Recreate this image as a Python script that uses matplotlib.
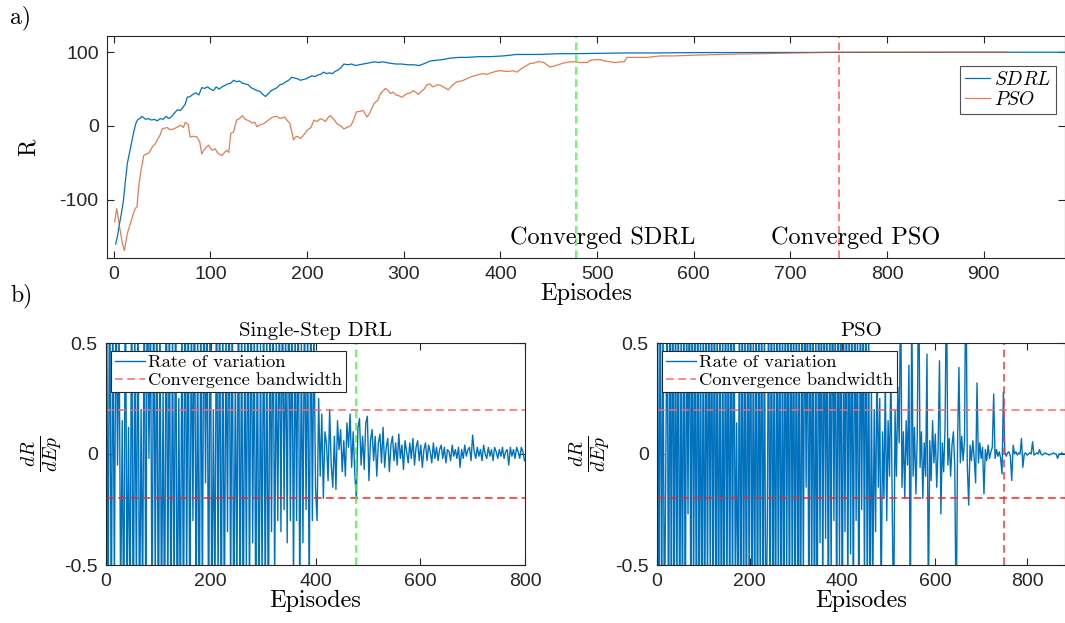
import numpy as np
import matplotlib
matplotlib.use("Agg")
import matplotlib.pyplot as plt

# a) reward per episode
sdrl_ep = [2, 4, 6, 8, 10, 12, 14, 16, 18, 21,
           23, 25, 27, 29, 31, 33, 36, 39, 42, 45,
           48, 51, 54, 57, 60, 63, 66, 69, 72, 74,
           76, 79, 82, 85, 88, 91, 94, 97, 100, 103,
           106, 109, 112, 115, 118, 121, 124, 127, 130, 133,
           136, 139, 142, 145, 148, 151, 154, 157, 160, 163,
           166, 169, 172, 175, 178, 181, 184, 187, 190, 193,
           196, 199, 202, 205, 208, 211, 214, 217, 220, 223,
           226, 229, 232, 235, 238, 242, 246, 250, 254, 258,
           262, 266, 270, 274, 278, 282, 286, 292, 298, 304,
           310, 316, 322, 327, 333, 340, 348, 357, 365, 378,
           389, 403, 417, 430, 441, 460, 475, 500, 530, 560,
           600, 650, 700, 750, 800, 850, 900, 950, 990]
sdrl_r = [-160, -148, -132, -118, -101, -75, -51, -38, -25, -6,
          4, 9, 10, 13, 11, 9, 10, 8, 9, 7,
          10, 9, 13, 10, 13, 18, 22, 21, 26, 30,
          39, 40, 43, 45, 42, 52, 51, 53, 50, 48,
          53, 50, 53, 55, 57, 58, 62, 60, 61, 58,
          57, 56, 52, 50, 48, 47, 43, 40, 44, 48,
          50, 52, 56, 57, 60, 62, 66, 65, 64, 62,
          63, 64, 66, 68, 67, 69, 70, 73, 71, 72,
          71, 74, 76, 79, 84, 83, 84, 82, 83, 84,
          85, 86, 87, 86, 87, 86, 85, 84, 84, 83,
          83, 82, 85, 88, 89, 90, 92, 93, 93, 94,
          94, 95, 97, 97, 97, 98, 98, 98.5, 99, 99,
          99.5, 99.6, 99.8, 99.9, 100, 100, 100, 100, 100]

pso_ep = [1, 3, 5, 7, 9, 11, 14, 17, 20, 22,
          24, 26, 28, 31, 34, 36, 38, 40, 43, 45,
          48, 50, 53, 55, 58, 62, 65, 69, 72, 74,
          77, 79, 82, 86, 89, 91, 93, 95, 98, 100,
          102, 105, 107, 109, 112, 115, 117, 119, 121, 124,
          127, 130, 133, 136, 138, 141, 143, 146, 148, 152,
          155, 159, 164, 169, 172, 174, 177, 179, 182, 186,
          188, 190, 193, 196, 200, 204, 207, 210, 214, 217,
          219, 222, 224, 227, 231, 235, 238, 241, 245, 248,
          251, 255, 258, 262, 265, 269, 273, 276, 281, 284,
          286, 289, 292, 295, 298, 301, 304, 307, 310, 313,
          315, 318, 321, 324, 327, 330, 332, 335, 338, 342,
          346, 350, 355, 360, 365, 370, 373, 378, 382, 386,
          390, 395, 400, 405, 409, 413, 417, 422, 427, 431,
          434, 438, 441, 445, 451, 455, 460, 464, 468, 473,
          478, 482, 486, 490, 493, 498, 503, 508, 514, 519,
          524, 528, 531, 540, 552, 558, 566, 580, 600, 615,
          628, 645, 669, 685, 703, 725, 748, 800, 850, 925]
pso_r = [-130, -112, -128, -145, -160, -169, -146, -133, -120, -112,
         -110, -80, -62, -40, -38, -37, -33, -28, -24, -19,
         -12, -4, -3, -2, -5, -4, -2, 1, -2, 5,
         2, -15, -14, -15, -22, -38, -33, -30, -26, -30,
         -33, -31, -36, -38, -40, -35, -33, -36, -10, -8,
         8, 10, 14, 9, 8, 6, 4, 5, -1, 2,
         3, 7, 12, 13, 10, 11, 12, 8, 4, -19,
         -15, -14, -17, -13, -6, -2, 8, 6, 10, 8,
         6, 12, 14, 10, 3, 0, -4, -2, 0, 8,
         19, 20, 21, 12, 18, 30, 35, 44, 51, 48,
         44, 46, 42, 41, 39, 42, 44, 45, 48, 45,
         43, 47, 50, 56, 57, 53, 54, 56, 55, 52,
         49, 55, 60, 61, 64, 67, 68, 70, 71, 70,
         72, 74, 75, 74, 74, 75, 73, 78, 82, 85,
         85, 87, 87, 86, 80, 81, 83, 85, 86, 87,
         87, 86, 86, 86, 89, 90, 90, 88, 87, 86,
         87, 87, 93, 93, 93, 94, 95, 95, 96, 96.5,
         97, 97.5, 98, 98.5, 99, 99.5, 100, 100, 100, 100]

conv_sdrl = 478
conv_pso = 750

# b) rate of variation dR/dEp, one value every 3 episodes
drl_rate = [0.9, -0.8, 1.1, -0.9, 0.7, -0.6, 0.8, -0.05, 0.6, -0.7,
            0.15, -0.9, 1.0, -0.7, 0.12, -0.8, 0.9, -1.0, 0.6, -0.6,
            0.8, -0.9, 0.2, -0.7, 0.9, -0.8, 1.0, -0.02, 0.7, -0.9,
            0.9, -0.6, 0.8, -1.0, 0.7, -0.8, 0.3, -0.9, 1.0, -0.7,
            0.8, -0.9, 0.6, -0.7, 0.9, -1.0, 0.25, -0.8, 0.7, -0.9,
            1.0, -0.6, 0.8, -0.9, 0.7, -0.3, 0.9, -0.8, 0.6, -1.0,
            0.8, -0.7, 0.9, -0.13, 0.7, -0.9, 1.0, -0.8, 0.2, -0.7,
            0.9, -0.6, 0.8, -0.9, 0.7, -0.8, 0.6, -0.35, 0.9, -0.7,
            0.8, -0.9, 0.4, -0.6, 0.9, -0.8, 0.7, -0.9, 0.6, -0.5,
            0.8, -0.7, 0.9, -0.4, 0.6, -0.8, 0.7, -0.9, 0.5, -0.6,
            0.8, -0.7, 0.6, -0.9, 0.7, -0.35, 0.8, -0.6, 0.5, -0.3,
            0.7, -0.35, 0.8, -0.25, 0.6, -0.4, 0.9, -0.3, 0.7, -0.6,
            0.6, -0.3, 0.8, -0.7, 0.5, -0.4, 0.7, -0.25, 0.6, -0.7,
            0.8, -0.3, 0.6, -0.15,
            -0.3, 0.25, -0.1, 0.18, -0.2, 0.1, 0.05, -0.12, 0.2, -0.05,
            -0.15, 0.08, -0.16, 0.15, 0.02, 0.11, -0.08, 0.06, -0.1, 0.14,
            0.03, 0.18, -0.06, 0.1, -0.09, -0.2, 0.12, 0.16, -0.05, 0.08,
            -0.07, 0.14, 0.17, -0.12, 0.06, 0.11, -0.03, 0.08, -0.1, 0.05,
            0.09, -0.04, 0.12, -0.06, 0.03, 0.07, -0.08, 0.04, 0.08, -0.03,
            0.05, -0.05, 0.09, -0.02, 0.04, -0.07, 0.06, 0.01, -0.04, 0.05,
            -0.02, 0.07, -0.05, 0.03, 0.06, -0.03, 0.04, -0.06, 0.02, 0.05,
            -0.03, 0.04, 0.01, -0.04, 0.05, -0.02, 0.03, -0.03, 0.02, 0.04,
            -0.02, 0.03, -0.04, 0.02, 0.01, -0.03, 0.04, -0.01, 0.02, -0.02,
            0.03, -0.06, 0.02, -0.02, 0.04, -0.01, 0.02, 0.03, -0.03, 0.085,
            0.01, -0.02, 0.03, -0.01, 0.02, -0.03, 0.04, 0.0, -0.02, 0.03,
            -0.01, 0.02, -0.03, 0.03, 0.01, -0.02, 0.02, -0.01, 0.03, -0.02,
            0.01, 0.02, -0.05, 0.03, -0.01, 0.02, -0.02, 0.03, 0.01, -0.02,
            0.03, 0.01, -0.03]

pso_rate = [0.9, -0.9, 1.0, -0.8, 0.7, -0.9, -0.05, 0.8, -1.0, 0.9,
            -0.8, 1.1, -0.9, 0.8, -0.7, 0.9, -1.0, 0.6, -0.8, 0.9,
            -0.9, 0.7, -0.27, 1.0, -0.8, 0.9, -0.7, 0.8, -0.9, 1.0,
            -0.8, 0.6, -0.9, 0.8, -1.0, 0.9, -0.7, 0.8, -0.6, 0.9,
            -0.9, 1.0, -0.8, 0.7, -0.9, 0.8, -1.0, 0.6, -0.8, 0.9,
            -0.7, 0.8, -0.9, 1.0, -0.8, 0.9, -0.6, 0.14, -0.9, 0.8,
            -1.0, 0.9, -0.8, 0.7, -0.9, 0.8, -0.7, 1.0, -0.9, 0.6,
            -0.8, 0.9, -1.0, 0.8, -0.7, 0.9, -0.8, 0.7, -0.9, -0.36,
            0.8, -0.9, 1.0, -0.8, 0.6, -0.9, 0.8, -0.7, 0.9, -1.0,
            0.7, -0.8, 0.9, -0.6, 0.8, -0.9, 1.0, -0.7, 0.8, -0.9,
            0.9, -0.8, 0.7, -1.0, 0.8, -0.6, 0.9, -0.15, 0.8, -0.9,
            1.0, -0.7, 0.8, -0.9, 0.6, -0.8, 0.9, -0.4, 0.8, -0.7,
            0.9, -0.38, 0.7, -0.9, 0.8, -0.6, 1.0, -0.3, 0.7, -0.8,
            0.9, -0.5, 0.8, -0.9, 0.6, -0.35, 0.9, -0.7, 0.8, -0.45,
            0.7, -0.8, 0.9, -0.3, 0.6, -0.9, 0.8, -0.25, 0.7, -0.6,
            0.9, -0.7, 0.6, -0.8,
            0.3, -0.6, 0.2, -0.35, 0.45, -0.15, 0.25, -0.7, 0.1, -0.2,
            0.35, -0.3, 0.15, -0.1, 0.4, -0.25, -0.8, 0.2, -0.1, 0.3,
            0.05, 0.8, -0.15, 0.1, -0.2, 0.15, -0.05, 0.4, -0.8, 0.7,
            -0.1, 0.12, -0.18, 0.08, 0.9, -0.06, 0.1, -0.2, 0.05, -0.1,
            0.45, -0.7, 0.06, -0.12, 0.15, -0.04, 0.09, -0.15, 0.03, 0.42,
            -0.27, 0.05, -0.08, 0.12, 0.8, -0.05, 0.07, -0.1, 0.04, 0.1,
            -0.06, -0.8, 0.05, 0.39, -0.04, 0.08, -0.03, 0.06, 0.9, -0.05,
            -0.23, 0.04, -0.03, 0.06, -0.02, -0.13, 0.32, -0.04, 0.05, -0.02,
            0.03, -0.18, 0.02, -0.03, 0.04, -0.02, 0.01, 0.03, 0.27, -0.02,
            0.02, -0.01, 0.01, -0.02, -0.09, 0.28, 0.01, -0.01, 0.005, 0.01,
            -0.01, -0.12, 0.04, 0.0, 0.01, -0.005, 0.005, 0.0, 0.07, -0.06,
            0.0, 0.005, -0.005, 0.0, 0.005, 0.0, 0.055, -0.005, 0.0, 0.005,
            0.0, 0.02, 0.0, -0.005, 0.0, 0.005, 0.0, 0.0, -0.005, 0.0,
            0.0, 0.005, 0.0, 0.0, -0.02, 0.0, 0.0, 0.005, 0.0, 0.0]

band = 0.2

drl_ep = np.arange(1, 3 * len(drl_rate) + 1, 3)
pso_rate_ep = np.arange(1, 3 * len(pso_rate) + 1, 3)

BLUE = '#0072BD'
ORANGE = '#D95319'
AX = '#262626'
SERIF = 'cmr10'

plt.rcParams['font.family'] = ['Liberation Sans', 'DejaVu Sans']
plt.rcParams['mathtext.fontset'] = 'cm'
plt.rcParams['axes.unicode_minus'] = False
plt.rcParams['xtick.direction'] = 'in'
plt.rcParams['ytick.direction'] = 'in'
plt.rcParams['xtick.top'] = True
plt.rcParams['ytick.right'] = True
plt.rcParams['xtick.labelsize'] = 14
plt.rcParams['ytick.labelsize'] = 14
plt.rcParams['axes.edgecolor'] = AX
plt.rcParams['xtick.color'] = AX
plt.rcParams['ytick.color'] = AX
plt.rcParams['axes.linewidth'] = 0.8


def style_ticks(ax):
    ax.tick_params(which='both', length=5, width=0.8, pad=6)


W, H = 1065, 623
fig = plt.figure(figsize=(W / 100, H / 100), dpi=100)


def box(l, t, r, b):
    return [l / W, 1 - b / H, (r - l) / W, (b - t) / H]


# top panel
ax = fig.add_axes(box(107, 36, 1065, 258))
ax.plot(sdrl_ep, sdrl_r, color=BLUE, lw=0.9, label='$SDRL$')
ax.plot(pso_ep, pso_r, color=ORANGE, lw=0.9, alpha=0.75, label='$PSO$')
ax.axvline(conv_sdrl, color='#33ff33', ls='--', lw=1.1, dashes=(5, 3))
ax.axvline(conv_pso, color='#ff5a5a', ls='--', lw=1.1, dashes=(5, 3))
ax.text(506, -152, 'Converged SDRL', family=SERIF, fontsize=17.5, ha='center', va='center')
ax.text(767, -152, 'Converged PSO', family=SERIF, fontsize=17.5, ha='center', va='center')
ax.set_xlim(-7, 984)
ax.set_ylim(-179, 122)
ax.set_xticks(range(0, 1000, 100))
ax.set_yticks([-100, 0, 100])
ax.set_xlabel('Episodes', family=SERIF, fontsize=17.5, labelpad=0)
ax.set_ylabel('R', family=SERIF, fontsize=17, labelpad=14)
style_ticks(ax)
leg = ax.legend(loc='upper right', bbox_to_anchor=(0.991, 0.865), borderaxespad=0,
                fontsize=14, frameon=True, fancybox=False, handlelength=1.3,
                handletextpad=0.2, borderpad=0.25, labelspacing=0.1)
leg.get_frame().set_edgecolor(AX)
leg.get_frame().set_linewidth(0.8)

# bottom panels
panels = [
    (box(106, 343, 525, 565), drl_ep, drl_rate, conv_sdrl, '#33ff33', 'Single-Step DRL', 800, -0.098),
    (box(657, 343, 1065, 565), pso_rate_ep, pso_rate, conv_pso, '#ff3333', 'PSO', 881, -0.108),
]
for pos, ep, rate, conv, ccol, title, xmax, ylx in panels:
    a = fig.add_axes(pos)
    a.plot(ep, rate, color=BLUE, lw=1.0, label='Rate of variation')
    a.axhline(band, color='#ff6666', ls='--', lw=1.1, dashes=(5, 3), label='Convergence bandwidth')
    a.axhline(-band, color='#ff2222', ls='--', lw=1.1, dashes=(5, 3))
    a.axvline(conv, color=ccol, ls='--', lw=1.1, dashes=(5, 3))
    a.set_xlim(0, xmax)
    a.set_ylim(-0.5, 0.5)
    a.set_xticks(range(0, 801, 200))
    a.set_yticks([-0.5, 0, 0.5])
    a.set_yticklabels(['-0.5', '0', '0.5'])
    a.set_title(title, family=SERIF, fontsize=15, pad=5)
    a.set_xlabel('Episodes', family=SERIF, fontsize=17.5, labelpad=0)
    a.set_ylabel(r'$\frac{dR}{dEp}$', fontsize=20)
    a.yaxis.set_label_coords(ylx, 0.5)
    style_ticks(a)
    lg = a.legend(loc='upper left', bbox_to_anchor=(0.013, 0.965), borderaxespad=0,
                  prop={'family': SERIF, 'size': 13.3}, frameon=True, fancybox=False,
                  framealpha=1, handlelength=1.6, handletextpad=0.2,
                  borderpad=0.2, labelspacing=0.1)
    lg.get_frame().set_edgecolor(AX)
    lg.get_frame().set_linewidth(0.8)

fig.text(10 / W, 1 - 18 / H, 'a)', family=SERIF, fontsize=17, ha='left', va='center')
fig.text(10 / W, 1 - 296 / H, 'b)', family=SERIF, fontsize=17, ha='left', va='center')

fig.savefig('out.png', dpi=100)
